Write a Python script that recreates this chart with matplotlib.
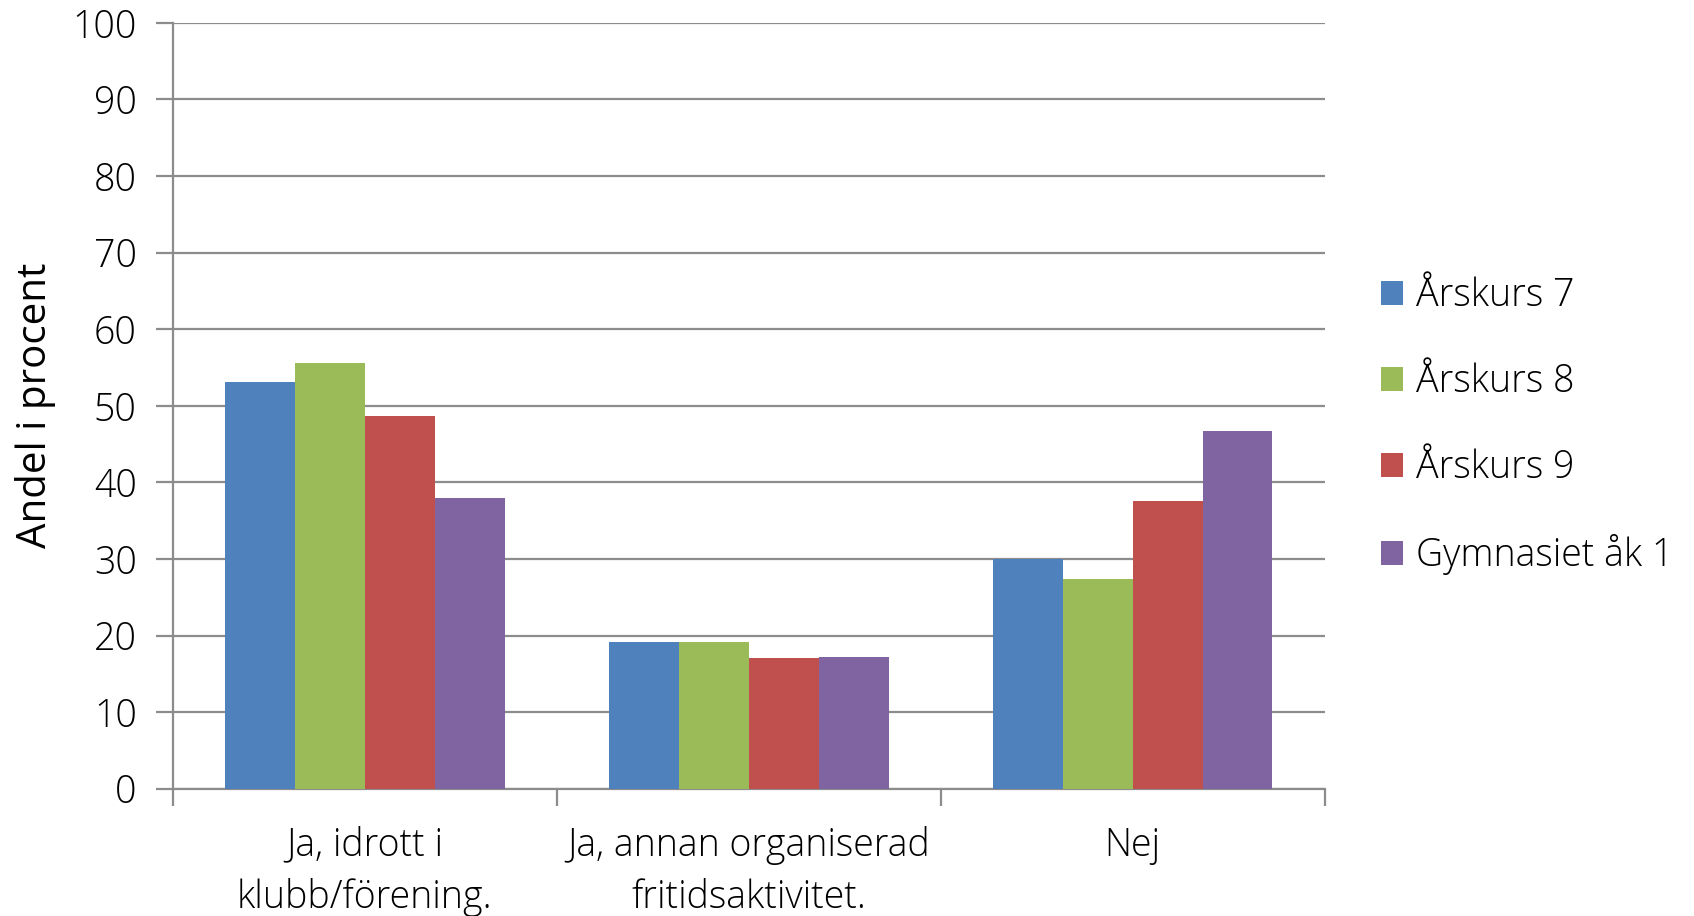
import matplotlib
matplotlib.use("Agg")
import matplotlib.pyplot as plt
import numpy as np

categories = ["Ja, idrott i\nklubb/förening.", "Ja, annan organiserad\nfritidsaktivitet.", "Nej"]
series_names = ["Årskurs 7", "Årskurs 8", "Årskurs 9", "Gymnasiet åk 1"]
ak7 = [53.1, 19.2, 30.0]
ak8 = [55.6, 19.1, 27.4]
ak9 = [48.7, 17.0, 37.6]
gy1 = [38.0, 17.2, 46.7]
colors = ["#4F81BD", "#9BBB59", "#C0504D", "#8064A2"]

plt.rcParams["font.family"] = ["Open Sans", "DejaVu Sans"]
plt.rcParams["font.weight"] = "light"

fig = plt.figure(figsize=(16.94, 9.16), dpi=100)
ax = fig.add_axes([0.102, 0.139, 0.680, 0.836])

x = np.arange(len(categories))
w = 0.182
for i, (vals, name) in enumerate(zip([ak7, ak8, ak9, gy1], series_names)):
    ax.bar(x + (i - 1.5) * w, vals, w, color=colors[i], label=name, zorder=3)

grid_c = "#8c8c8c"
ax.set_xlim(-0.5, 2.5)
ax.set_ylim(0, 100)
ax.set_yticks(range(0, 101, 10))
ax.yaxis.grid(True, color=grid_c, linewidth=1.6, zorder=0)
ax.set_axisbelow(True)
for s in ["top", "right"]:
    ax.spines[s].set_visible(False)
for s in ["left", "bottom"]:
    ax.spines[s].set_color(grid_c)
    ax.spines[s].set_linewidth(1.6)

ax.set_xticks(x)
ax.set_xticklabels(categories, fontsize=27, linespacing=1.45)
ax.set_xticks([-0.5, 0.5, 1.5, 2.5], minor=True)
ax.tick_params(axis="x", which="major", length=0, pad=27)
ax.tick_params(axis="x", which="minor", length=12, width=1.6, color=grid_c, direction="out")
ax.tick_params(axis="y", length=12, width=1.6, color=grid_c, labelsize=27, pad=14)

ax.set_ylabel("Andel i procent", fontsize=29, labelpad=12)

fig.legend(*ax.get_legend_handles_labels(), loc="center left",
           bbox_to_anchor=(0.815, 0.535), frameon=False, fontsize=27,
           handlelength=0.6, handleheight=0.6, labelspacing=1.26, handletextpad=0.35,
           borderaxespad=0, borderpad=0)

fig.savefig("out.png", dpi=100)
